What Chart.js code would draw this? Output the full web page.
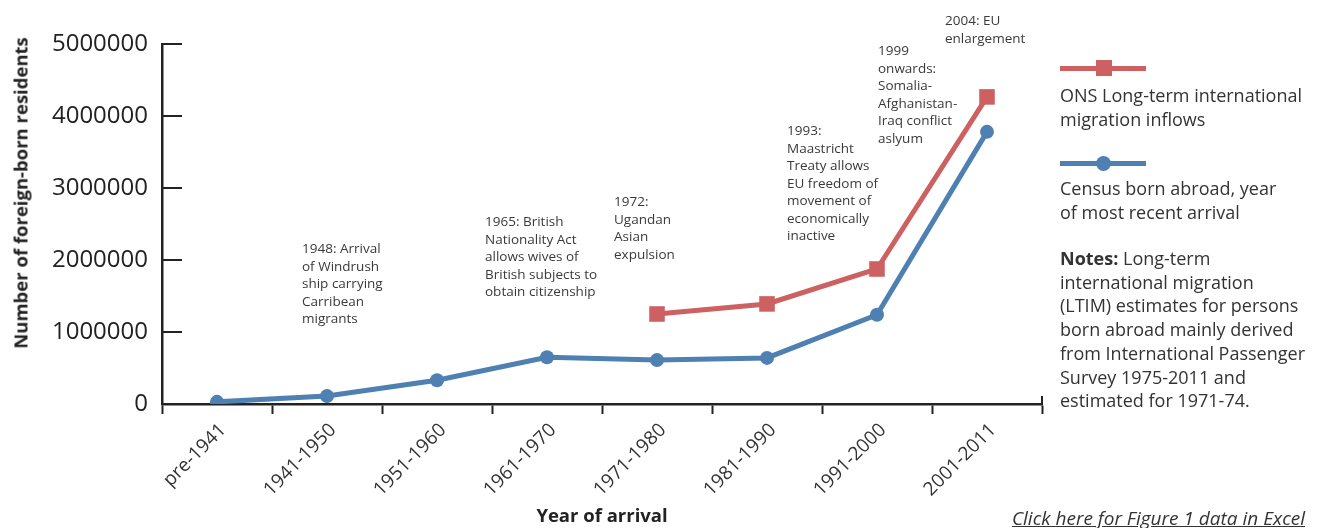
<!DOCTYPE html>
<html lang="en">
<head>
    <meta charset="UTF-8">
    <title>Foreign-born residents by year of arrival</title>

    <style>
        body { margin: 0; background: #fff; font-family: "Open Sans", "Noto Sans", sans-serif; color: #333; }
        #wrap { position: relative; width: 1320px; height: 528px; }
        #grafico { position: absolute; left: 0; top: 0; }
        .nota { position: absolute; font-size: 13.5px; line-height: 17.5px; color: #3a3a3a; white-space: nowrap; }
        .legenda { position: absolute; left: 1060px; font-size: 18px; line-height: 23.7px; color: #333; white-space: nowrap; }
        .traco { position: absolute; left: 1060px; width: 86px; height: 5px; }
        #tituloY { position: absolute; left: 20px; top: 193px; transform: translate(-50%, -50%) rotate(-90deg);
                   font-size: 18.5px; font-weight: bold; color: #222; white-space: nowrap; }
        #link { position: absolute; right: 15px; top: 505px; font-size: 19px; font-style: italic;
                text-decoration: underline; color: #333; }
    </style>

    <script src="https://cdn.jsdelivr.net/npm/chart.js"></script>
</head>
<body>
<div id="wrap">
    <canvas id="grafico" width="1320" height="528"></canvas>

    <div id="tituloY">Number of foreign-born residents</div>

    <!-- eventos historicos -->
    <div class="nota" style="left:302px; top:240px;">1948: Arrival<br>of Windrush<br>ship carrying<br>Carribean<br>migrants</div>
    <div class="nota" style="left:485px; top:213px;">1965: British<br>Nationality Act<br>allows wives of<br>British subjects to<br>obtain citizenship</div>
    <div class="nota" style="left:614px; top:193px;">1972:<br>Ugandan<br>Asian<br>expulsion</div>
    <div class="nota" style="left:787px; top:122px;">1993:<br>Maastricht<br>Treaty allows<br>EU freedom of<br>movement of<br>economically<br>inactive</div>
    <div class="nota" style="left:878px; top:42px;">1999<br>onwards:<br>Somalia-<br>Afghanistan-<br>Iraq conflict<br>aslyum</div>
    <div class="nota" style="left:945px; top:12px;">2004: EU<br>enlargement</div>

    <!-- legenda -->
    <div class="traco" style="top:66px; background:#cd6060;"></div>
    <div style="position:absolute; left:1096px; top:60px; width:16px; height:16px; background:#cd6060;"></div>
    <div class="legenda" style="top:84px;">ONS Long-term international<br>migration inflows</div>

    <div class="traco" style="top:161px; background:#4f80b2;"></div>
    <div style="position:absolute; left:1096px; top:156px; width:15px; height:15px; border-radius:50%; background:#4f80b2;"></div>
    <div class="legenda" style="top:177px;">Census born abroad, year<br>of most recent arrival</div>

    <div class="legenda" style="top:247px;"><b>Notes:</b> Long-term<br>international migration<br>(LTIM) estimates for persons<br>born abroad mainly derived<br>from International Passenger<br>Survey 1975-2011 and<br>estimated for 1971-74.</div>

    <div id="link">Click here for Figure 1 data in Excel</div>
</div>

<script>
    // Dados
    const periodos = ['pre-1941', '1941-1950', '1951-1960', '1961-1970', '1971-1980', '1981-1990', '1991-2000', '2001-2011'];
    const censo = [30000, 110000, 330000, 650000, 610000, 640000, 1240000, 3780000];
    const ltim = [null, null, null, null, 1250000, 1390000, 1875000, 4265000];
    const marcasY = [0, 1000000, 2000000, 3000000, 4000000, 5000000];

    const corVermelha = '#cd6060';
    const corAzul = '#4f80b2';
    const corEixo = '#222';

    // ticks do eixo Y para dentro + tick no fim do eixo X
    const ticksInternos = {
        id: 'ticksInternos',
        afterDraw(chart) {
            const ctx = chart.ctx;
            const y = chart.scales.y;
            const area = chart.chartArea;
            ctx.save();
            ctx.strokeStyle = corEixo;
            ctx.lineWidth = 2;
            marcasY.forEach(v => {
                const py = Math.round(y.getPixelForValue(v));
                ctx.beginPath();
                ctx.moveTo(area.left, py);
                ctx.lineTo(area.left + 20, py);
                ctx.stroke();
            });
            ctx.beginPath();
            ctx.moveTo(area.right, area.bottom + 1);
            ctx.lineTo(area.right, area.bottom - 8);
            ctx.stroke();
            ctx.restore();
        }
    };

    const ctx = document.getElementById('grafico').getContext('2d');
    new Chart(ctx, {
        type: 'line',
        data: {
            labels: periodos,
            datasets: [
                {
                    label: 'ONS Long-term international migration inflows',
                    data: ltim,
                    borderColor: corVermelha,
                    backgroundColor: corVermelha,
                    borderWidth: 5,
                    pointStyle: 'rect',
                    pointRadius: 11,
                    pointBorderWidth: 0,
                    fill: false
                },
                {
                    label: 'Census born abroad, year of most recent arrival',
                    data: censo,
                    borderColor: corAzul,
                    backgroundColor: corAzul,
                    borderWidth: 5,
                    pointStyle: 'circle',
                    pointRadius: 7,
                    pointBorderWidth: 0,
                    fill: false
                }
            ]
        },
        options: {
            responsive: false,
            animation: false,
            layout: { padding: { top: 44, right: 278, left: 0, bottom: 0 } },
            plugins: {
                legend: { display: false },
                tooltip: { enabled: false }
            },
            scales: {
                x: {
                    offset: true,
                    grid: {
                        offset: true,
                        drawOnChartArea: false,
                        tickLength: 10,
                        tickWidth: 2,
                        tickColor: corEixo
                    },
                    border: { color: corEixo, width: 2.5 },
                    ticks: {
                        minRotation: 45,
                        maxRotation: 45,
                        padding: 5,
                        labelOffset: 6,
                        color: '#333',
                        font: { family: '"Open Sans", sans-serif', size: 19 }
                    },
                    title: {
                        display: true,
                        text: 'Year of arrival',
                        color: '#222',
                        font: { family: '"Open Sans", sans-serif', size: 18.5, weight: 'bold' },
                        padding: { top: 0, bottom: 0 }
                    },
                    afterFit(scale) { scale.height = 124; }
                },
                y: {
                    min: 0,
                    max: 5000000,
                    afterBuildTicks(scale) { scale.ticks = marcasY.map(v => ({ value: v })); },
                    grid: { display: true, drawOnChartArea: false, drawTicks: false },
                    border: { color: corEixo, width: 2.5 },
                    ticks: {
                        padding: 14,
                        color: '#222',
                        font: { family: '"Open Sans", sans-serif', size: 24 },
                        callback: v => String(v)
                    },
                    afterFit(scale) { scale.width = 162; }
                }
            }
        },
        plugins: [ticksInternos]
    });
</script>
</body>
</html>
